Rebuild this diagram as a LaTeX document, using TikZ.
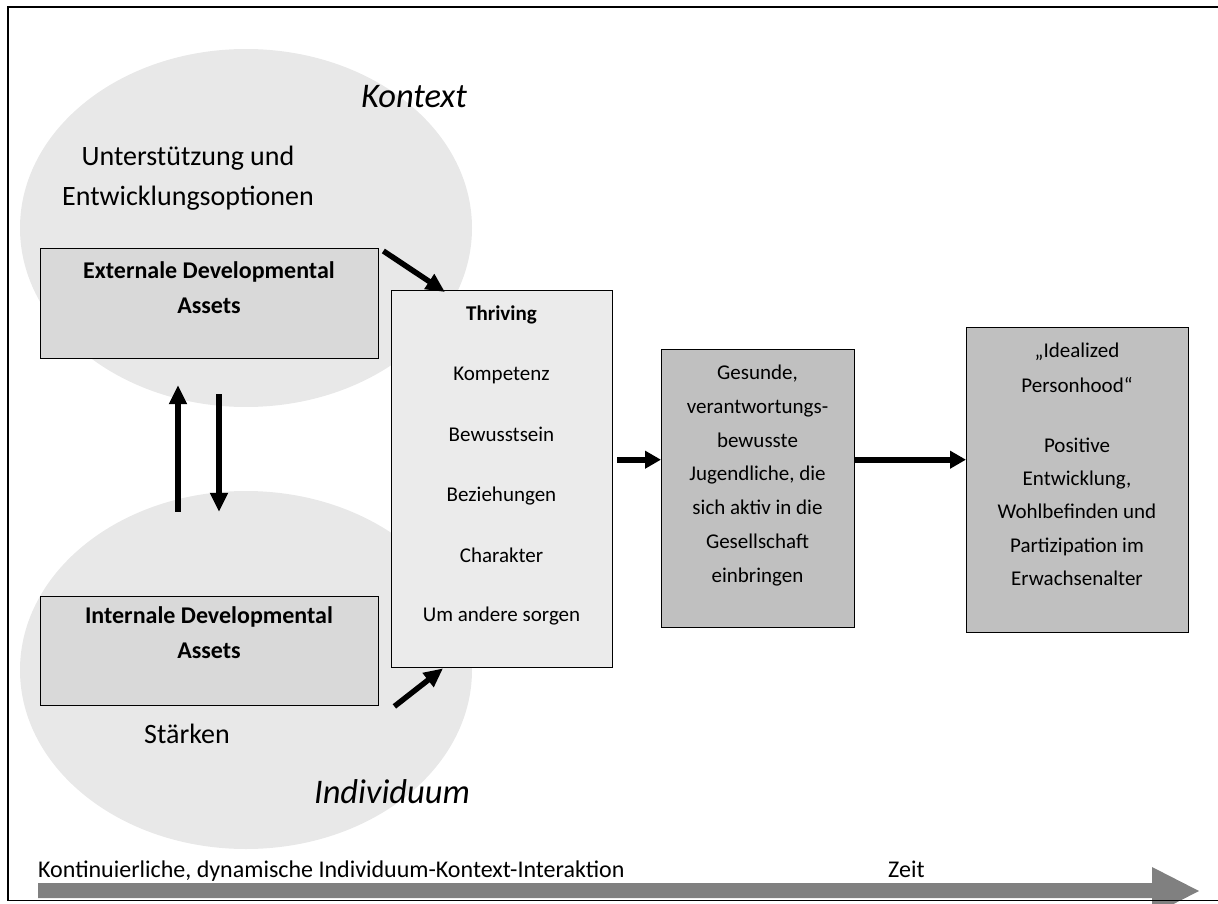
\documentclass[tikz,border=0pt]{standalone}
\usepackage{fontspec}
\setmainfont{Carlito}
\usetikzlibrary{arrows.meta,shapes.geometric}
\definecolor{blobgray}{HTML}{E8E8E8}
\definecolor{boxgray}{HTML}{D9D9D9}
\definecolor{thrgray}{HTML}{EBEBEB}
\definecolor{darkbox}{HTML}{C0C0C0}
\definecolor{timegray}{HTML}{808080}
\begin{document}
\begin{tikzpicture}[x=1pt,y=-1pt,
  blob/.style={ellipse, fill=blobgray, draw=none, minimum width=452pt, minimum height=358pt, inner sep=0pt},
  box/.style={draw=black, line width=1.4pt, inner sep=0pt, anchor=north west},
  txt/.style={anchor=base, inner sep=0pt, font=\fontsize{21}{25}\selectfont},
  midtxt/.style={anchor=base west, inner sep=0pt, font=\fontsize{24}{29}\selectfont},
  bigtxt/.style={anchor=base, inner sep=0pt, font=\fontsize{28}{34}\selectfont},
  titletxt/.style={anchor=base, inner sep=0pt, font=\fontsize{34.5}{41}\selectfont\itshape},
  boldtxt/.style={anchor=base, inner sep=0pt, font=\fontsize{21}{25}\selectfont\bfseries},
  assettxt/.style={anchor=base, inner sep=0pt, font=\fontsize{24}{29}\selectfont\bfseries},
  conn/.style={line width=5.5pt, -{Triangle[length=19pt,width=17pt]}},
  hconn/.style={line width=6pt, -{Triangle[length=16pt,width=17pt]}}
]
\useasboundingbox (0,0) rectangle (1218,904);

% ellipses
\node[blob] (ctx) at (246,228) {};
\node[blob] (ind) at (246,670) {};

% time arrow
\fill[timegray] (38,883) -- (1152,883) -- (1152,867) -- (1199,891) -- (1152,915) -- (1152,898) -- (38,898) -- cycle;

% frame
\draw[line width=1.5pt] (8,7) rectangle (1218.6,900.5);

% boxes
\node[box, fill=boxgray, minimum width=338pt, minimum height=110pt] (ext) at (40,248) {};
\node[box, fill=boxgray, minimum width=338pt, minimum height=109pt] (int) at (40,596) {};
\node[box, fill=thrgray, minimum width=221pt, minimum height=377pt] (thr) at (391,290) {};
\node[box, fill=darkbox, minimum width=193pt, minimum height=278pt] (ges) at (661,349) {};
\node[box, fill=darkbox, minimum width=222pt, minimum height=305pt] (idl) at (966,327) {};

% texts
\node[titletxt] (kontext) at (414,108) {Kontext};
\node[bigtxt] (u1) at (188,166) {Unterstützung und};
\node[bigtxt] (u2) at (188,206) {Entwicklungsoptionen};
\node[assettxt] (e1) at (209,278) {Externale Developmental};
\node[assettxt] (e2) at (209,313) {Assets};
\node[assettxt] (i1) at (209,623) {Internale Developmental};
\node[assettxt] (i2) at (209,658) {Assets};
\node[bigtxt] (staerken) at (187,743) {Stärken};
\node[titletxt] (individuum) at (392,803) {Individuum};

\node[boldtxt] (th0) at (501.5,320) {Thriving};
\node[txt] (th1) at (501.5,380) {Kompetenz};
\node[txt] (th2) at (501.5,441) {Bewusstsein};
\node[txt] (th3) at (501.5,501) {Beziehungen};
\node[txt] (th4) at (501.5,562) {Charakter};
\node[txt] (th5) at (501.5,621) {Um andere sorgen};

\node[txt] (g1) at (757.5,379) {Gesunde,};
\node[txt] (g2) at (757.5,413) {verantwortungs-};
\node[txt] (g3) at (757.5,447) {bewusste};
\node[txt] (g4) at (757.5,480) {Jugendliche, die};
\node[txt] (g5) at (757.5,514) {sich aktiv in die};
\node[txt] (g6) at (757.5,548) {Gesellschaft};
\node[txt] (g7) at (757.5,582) {einbringen};

\node[txt] (p1) at (1077,357) {„Idealized};
\node[txt] (p2) at (1077,392) {Personhood“};
\node[txt] (p3) at (1077,452) {Positive};
\node[txt] (p4) at (1077,485) {Entwicklung,};
\node[txt] (p5) at (1077,518) {Wohlbefinden und};
\node[txt] (p6) at (1077,552) {Partizipation im};
\node[txt] (p7) at (1077,585) {Erwachsenalter};

\node[midtxt] (bottom) at (38,877) {Kontinuierliche, dynamische Individuum-Kontext-Interaktion};
\node[midtxt] (zeit) at (888,877) {Zeit};

% connectors
\draw[conn] ([shift={(4,3)}]ext.north east) -- ([shift={(54,2)}]thr.north west);
\draw[conn] ([shift={(15,0)}]int.south east) -- ([shift={(52,0)}]thr.south west);
\draw[conn] ([shift={(-68,21)}]ind.north) -- ([shift={(-68,-22)}]ctx.south);
\draw[conn] ([shift={(-27,-13)}]ctx.south) -- ([shift={(-27,21)}]ind.north);
\draw[hconn] ([shift={(4,-19.5)}]thr.east) -- ([shift={(0,-29)}]ges.west);
\draw[hconn] ([shift={(0,-29)}]ges.east) -- ([shift={(0,-20.5)}]idl.west);
\end{tikzpicture}
\end{document}
